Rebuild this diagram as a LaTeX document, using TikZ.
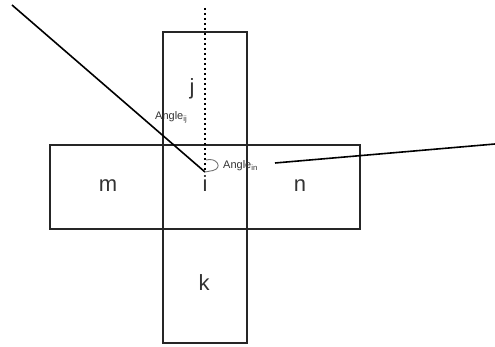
\documentclass[tikz,border=0pt]{standalone}
\usepackage{fontspec}
\setmainfont{Liberation Sans}
\tikzset{
    cell/.style={line width=1.8pt, draw=black!85},
    letter/.style={font=\fontsize{22}{26}\selectfont, text=black!80},
    anglelbl/.style={font=\fontsize{11}{13}\selectfont, text=black!80, inner sep=0pt}
}
\begin{document}
\begin{tikzpicture}[x=1pt, y=-1pt]
    \useasboundingbox (0,0) rectangle (495,347);
    % the cross of cells
    \draw[cell] (163,32) rectangle (247,343);
    \draw[cell] (50,145) rectangle (360,229);
    % cell names
    \node[letter] (j) at (192,89) {j};
    \node[letter] (i) at (205,184) {i};
    \node[letter] (m) at (108,186) {m};
    \node[letter] (n) at (300,186) {n};
    \node[letter] (k) at (204,283) {k};
    % centre and line ends
    \coordinate (ci) at (205,172);
    \coordinate (up) at (205,8);
    \coordinate (farleft) at (12,5);
    \coordinate (farright) at (495,144);
    \coordinate (nearright) at (275,163);
    \draw[line width=1.8pt, dash pattern=on 2.5pt off 2.5pt] (up) -- (ci);
    \draw[line width=1.6pt] (farleft) -- (ci);
    % angle marks
    \node[anglelbl, anchor=west] (aij) at (155,117) {Angle\textsubscript{ij}};
    \node[anglelbl, anchor=west] (ain) at (223,166) {Angle\textsubscript{in}};
    \draw[line width=1.6pt] (farright) -- (nearright);
    \draw[line width=0.9pt, black!55] (ci) -- (213,170.5) .. controls (223,168) and (217,157) .. (206,160);
\end{tikzpicture}
\end{document}
